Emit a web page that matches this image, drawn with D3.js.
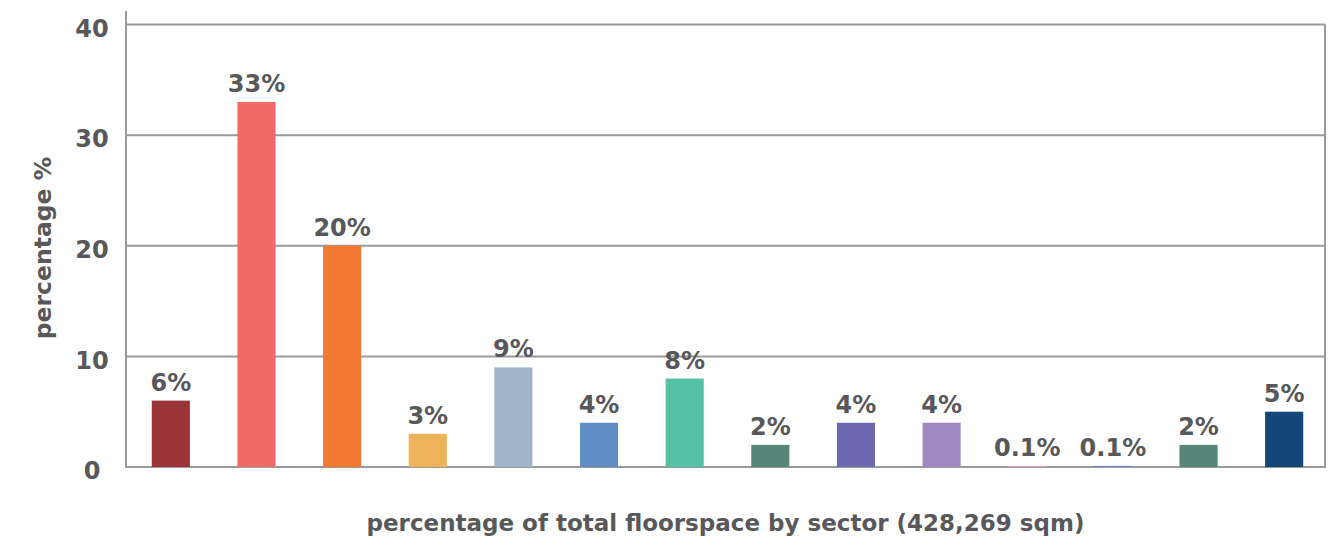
<!DOCTYPE html>
<html>
<head>
<meta charset="utf-8">
<script src="https://cdn.jsdelivr.net/npm/d3@7"></script>
<style>
  html, body { margin: 0; padding: 0; background: #fff; }
  svg { display: block; }
  text { font-family: "DejaVu Sans", "Noto Sans", sans-serif; font-weight: 700; fill: #58585a; }
</style>
</head>
<body>
<svg id="chart" width="1338" height="540"></svg>
<script>
// Share of total floorspace by sector
const sectors = ["s1","s2","s3","s4","s5","s6","s7","s8","s9","s10","s11","s12","s13","s14"];
const shares = [6, 33, 20, 3, 9, 4, 8, 2, 4, 4, 0.1, 0.1, 2, 5];
const shareLabels = ["6%","33%","20%","3%","9%","4%","8%","2%","4%","4%","0.1%","0.1%","2%","5%"];
const barColors = ["#9b3538","#f26a66","#f37831","#edb25a","#9fb5ca","#618dc5","#57c1a6","#558677",
                   "#6d69b1","#9f89c0","#d69bc6","#7883c1","#558677","#13477a"];
const yTicks = [0, 10, 20, 30, 40];
const xTitle = "percentage of total floorspace by sector (428,269 sqm)";
const yTitle = "percentage %";

const svg = d3.select("#chart");
const plotLeft = 126, plotRight = 1325, plotTop = 24.5, plotBottom = 467;

const y = d3.scaleLinear().domain([0, 40]).range([plotBottom, plotTop]);
const x = d3.scaleBand().domain(sectors).range([plotLeft + 2, plotRight + 2])
  .paddingInner(0.555).paddingOuter(0.2775);

const gridColor = "#9a9a9a";
const fontStack = "'DejaVu Sans', 'Noto Sans', sans-serif";

// horizontal gridlines
svg.append("g").selectAll("line").data(yTicks).join("line")
  .attr("x1", plotLeft).attr("x2", plotRight)
  .attr("y1", d => y(d)).attr("y2", d => y(d))
  .attr("stroke", gridColor).attr("stroke-width", 2);

// left axis line and right frame
svg.append("line").attr("x1", plotLeft).attr("x2", plotLeft).attr("y1", 11).attr("y2", plotBottom + 1)
  .attr("stroke", gridColor).attr("stroke-width", 2);
svg.append("line").attr("x1", plotRight).attr("x2", plotRight).attr("y1", plotTop).attr("y2", plotBottom + 1)
  .attr("stroke", gridColor).attr("stroke-width", 2);

// y tick labels
const yAxis = d3.axisLeft(y).tickValues(yTicks).tickSize(0).tickFormat(d3.format("d"));
const ga = svg.append("g").attr("transform", `translate(${plotLeft},0)`).call(yAxis);
ga.select(".domain").remove();
ga.selectAll("text")
  .attr("x", 92 - plotLeft).attr("dy", "0.36em").attr("text-anchor", "middle")
  .style("font-family", fontStack).style("font-weight", 700)
  .style("font-size", "24px").style("fill", "#58585a")
  .attr("transform", "translate(0,3)");

// bars
svg.append("g").selectAll("rect").data(sectors).join("rect")
  .attr("x", d => x(d))
  .attr("width", x.bandwidth())
  .attr("y", (d, i) => y(shares[i]))
  .attr("height", (d, i) => y(0) - y(shares[i]))
  .attr("fill", (d, i) => barColors[i]);

// value labels
svg.append("g").selectAll("text").data(sectors).join("text")
  .attr("x", d => x(d) + x.bandwidth() / 2)
  .attr("y", (d, i) => y(shares[i]) - 10)
  .attr("text-anchor", "middle")
  .style("font-size", "24px")
  .text((d, i) => shareLabels[i]);

// axis titles
svg.append("text")
  .attr("x", (plotLeft + plotRight) / 2).attr("y", 531)
  .attr("text-anchor", "middle")
  .style("font-size", "23px")
  .text(xTitle);

svg.append("text")
  .attr("transform", "translate(51,248) rotate(-90)")
  .attr("text-anchor", "middle")
  .style("font-size", "23.5px")
  .text(yTitle);
</script>
</body>
</html>
